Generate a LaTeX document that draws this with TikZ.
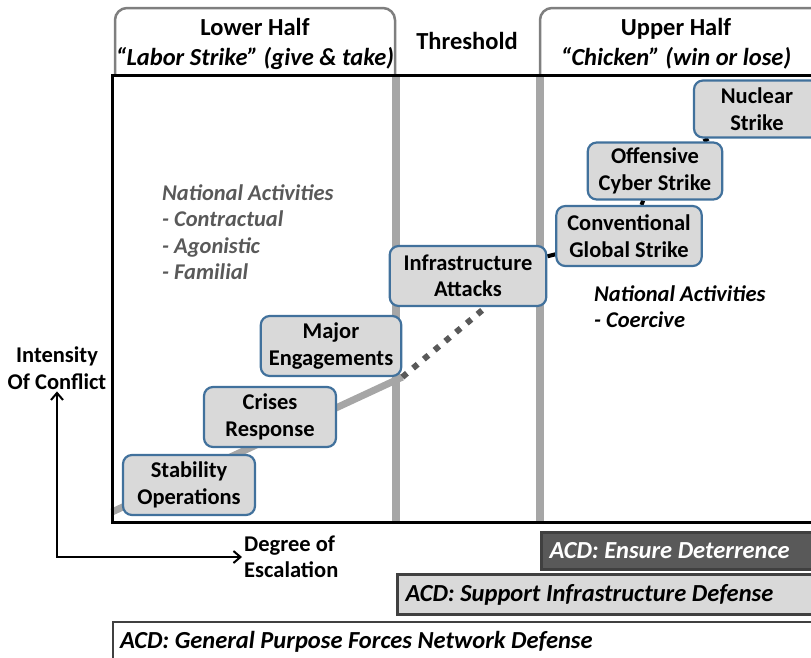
\documentclass[tikz,border=0pt]{standalone}
\usepackage{fontspec}
\setmainfont{Carlito}
\usetikzlibrary{backgrounds,arrows.meta}
\definecolor{boxfill}{RGB}{217,217,217}
\definecolor{boxline}{RGB}{65,113,156}
\definecolor{barline}{RGB}{166,166,166}
\definecolor{darkfill}{RGB}{89,89,89}
\definecolor{darkline}{RGB}{64,64,64}
\definecolor{tabline}{RGB}{127,127,127}
\newcommand{\bigfont}{\fontsize{22.5}{26.5}\selectfont\bfseries}
\newcommand{\headfont}{\fontsize{24.5}{30}\selectfont\bfseries}

\tikzset{
  stage/.style={draw=boxline, line width=2.2pt, fill=boxfill, rounded corners=9pt,
    align=center, minimum width=132pt, minimum height=60pt, inner xsep=11pt, font=\bigfont},
  tab/.style={draw=tabline, line width=2.5pt, rounded corners=12pt},
  divider/.style={draw=barline, line width=8pt},
  frame/.style={draw=black, line width=3pt},
  trend/.style={draw=barline, line width=7pt},
  jump/.style={draw=darkfill, line width=6pt, dash pattern=on 6pt off 8pt},
  climb/.style={draw=black, line width=4pt},
  acdbar/.style={line width=3pt, draw=darkline, anchor=north west, align=flush left,
    inner xsep=8pt, font=\headfont\itshape},
  note/.style={align=flush left, anchor=north west, inner sep=0pt, font=\bigfont\itshape},
  axis/.style={line width=2pt, {Straight Barb[length=7pt,width=12pt]}-{Straight Barb[length=7pt,width=12pt]}}
}

\begin{document}
\begin{tikzpicture}[x=1pt, y=-1pt]
\clip (0,0) rectangle (811,657);

% header tabs
\draw[tab] (115,75) -- (115,8) -- (395,8) -- (395,75);
\draw[tab] (540,75) -- (540,8) -- (840,8) -- (840,75);
\node[font=\headfont, align=center] (lower) at (255,44) {Lower Half\\\itshape “Labor Strike” (give \& take)};
\node[font=\headfont] (threshold) at (467,41) {Threshold};
\node[font=\headfont, align=center] (upper) at (676,44) {Upper Half\\\itshape “Chicken” (win or lose)};

% regions
\draw[divider] (396,75) -- (396,522);
\draw[divider] (540,75) -- (540,522);
\draw[frame] (840,75) -- (112,75) -- (112,522) -- (840,522);

% stages of escalation
\node[stage] (stab) at (189,485) {Stability\\Operations};
\node[stage] (crises) at (270,417) {Crises\\Response};
\node[stage, inner xsep=8pt] (major) at (331,346) {Major\\Engagements};
\node[stage, inner xsep=14pt] (infra) at (468,276) {Infrastructure\\Attacks};
\node[stage] (conv) at (629,236) {Conventional\\Global Strike};
\node[stage, minimum height=57pt] (cyber) at (655,171) {Offensive\\Cyber Strike};
\node[stage, minimum height=57pt, minimum width=126pt] (nuke) at (757,109) {Nuclear\\Strike};

\coordinate (t0) at (112,512);
\begin{scope}[on background layer]
  \draw[trend] (t0) -- (major.south east);
  \draw[jump] (major.south east) -- (infra.-60);
  \draw[climb] (infra) -- (conv) -- (cyber) -- (nuke);
\end{scope}

% activities
\node[note, text=darkfill] (lowact) at (162,184) {National Activities\\- Contractual\\- Agonistic\\- Familial};
\node[note] (upact) at (594,285) {National Activities\\- Coercive};

% axes
\node[font=\bigfont, align=center, inner sep=2pt] (intensity) at (57,368) {Intensity\\Of Conflict};
\node[font=\bigfont, align=flush left, anchor=west, inner sep=2pt] (degree) at (242,557) {Degree of\\Escalation};
\draw[axis] (intensity.south) |- (degree.west);

% active cyber defense bands
\node[acdbar, fill=darkfill, text=white, minimum height=37pt, text width=320pt] (deter) at (540,531) {ACD: Ensure Deterrence};
\node[acdbar, fill=boxfill, minimum height=40pt, text width=460pt] (support) at (396,573) {ACD: Support Infrastructure Defense};
\node[acdbar, fill=white, line width=2pt, minimum height=40pt, text width=760pt, inner xsep=7pt] (general) at (112,621) {ACD: General Purpose Forces Network Defense};
\end{tikzpicture}
\end{document}
